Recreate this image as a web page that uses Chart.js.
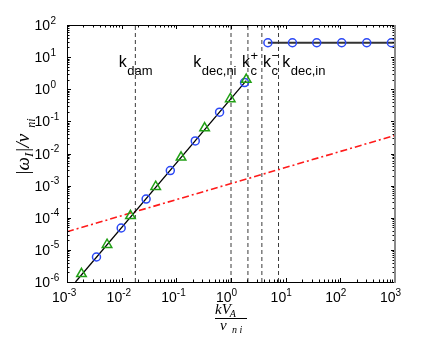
<!DOCTYPE html>
<html>
<head>
<meta charset="utf-8">
<script src="https://cdn.jsdelivr.net/npm/chart.js@4"></script>
<style>
body { margin: 0; background: #fff; }
</style>
</head>
<body>
<canvas id="growthChart" width="436" height="339"></canvas>
<script>
// markers on the k^2 branch
var triX = [0.00184, 0.0054, 0.0145, 0.0419, 0.122, 0.329, 0.97, 1.9];
var triY = [1.8e-6, 1.45e-5, 1.15e-4, 9.3e-4, 0.0076, 0.062, 0.50, 2.0];
var circX = [0.00346, 0.0098, 0.028, 0.0776, 0.222, 0.618, 1.77];
var circY = [6.0e-6, 4.8e-5, 3.8e-4, 0.00295, 0.0247, 0.193, 1.61];
// solid k^2 line
var lineX = [0.00143, 1.9];
var lineY = [1.0e-6, 1.85];
// flat branch
var flatX = [4.73, 1000];
var flatY = [28, 28];
var flatCircX = [4.73, 13.3, 37, 106, 304, 858];
var flatCircY = [28, 28, 28, 28, 28, 28];
// red dash-dot
var redX = [0.001, 1000];
var redY = [3.67e-5, 0.0367];
// vertical markers
var kLines = [0.0178, 1.0, 2.04, 3.67, 7.4];
var kLabelX = [0.00883, 0.2045, 1.585, 3.83, 8.63];
var kLabelY = 4.9;
var kSub = ["dam", "dec,ni", "c", "c", "dec,in"];
var kSup = ["", "", "+", "\u2212", ""];

var yMin = 1e-6, yMax = 1e2;
var xExp = [-3, -2, -1, 0, 1, 2, 3];
var yExp = [-6, -5, -4, -3, -2, -1, 0, 1, 2];

function pts(xs, ys) {
	return xs.map(function (x, i) { return { x: x, y: ys[i] }; });
}

var datasets = [
	{ data: pts(triX, triY), showLine: false, pointStyle: "triangle", pointRadius: 5.5,
		borderColor: "#22a016", backgroundColor: "rgba(0,0,0,0)", pointBorderWidth: 1.5 },
	{ data: pts(circX, circY), showLine: false, pointStyle: "circle", pointRadius: 4,
		borderColor: "#2b48f5", backgroundColor: "rgba(0,0,0,0)", pointBorderWidth: 1.5 },
	{ data: pts(flatCircX, flatCircY), showLine: false, pointStyle: "circle", pointRadius: 4,
		borderColor: "#2b48f5", backgroundColor: "rgba(0,0,0,0)", pointBorderWidth: 1.5 },
	{ data: pts(lineX, lineY), showLine: true, pointRadius: 0, borderColor: "#000", borderWidth: 1.3 },
	{ data: pts(flatX, flatY), showLine: true, pointRadius: 0, borderColor: "#333", borderWidth: 2 },
	{ data: pts(redX, redY), showLine: true, pointRadius: 0, borderColor: "#ff1a1a", borderWidth: 1.6,
		borderDash: [7, 3, 2, 3] }
];
kLines.forEach(function (k) {
	datasets.push({ data: pts([k, k], [yMin, yMax]), showLine: true, pointRadius: 0,
		borderColor: "#3a3a3a", borderWidth: 1, borderDash: [4, 3] });
});

var decor = {
	id: "decor",
	afterDraw: function (chart) {
		var ctx = chart.ctx, a = chart.chartArea;
		var xs = chart.scales.x, ys = chart.scales.y;
		ctx.save();

		// inward ticks on all sides
		ctx.strokeStyle = "#000";
		ctx.lineWidth = 1;
		ctx.beginPath();
		for (var e = -3; e <= 3; e++) {
			for (var m = 1; m < 10; m++) {
				if (e == 3 && m > 1) break;
				var px = Math.round(xs.getPixelForValue(m * Math.pow(10, e))) + 0.5;
				var len = m == 1 ? 4 : 2.5;
				ctx.moveTo(px, a.bottom); ctx.lineTo(px, a.bottom - len);
				ctx.moveTo(px, a.top); ctx.lineTo(px, a.top + len);
			}
		}
		for (var e = -6; e <= 2; e++) {
			for (var m = 1; m < 10; m++) {
				if (e == 2 && m > 1) break;
				var py = Math.round(ys.getPixelForValue(m * Math.pow(10, e))) + 0.5;
				var len = m == 1 ? 4 : 2.5;
				ctx.moveTo(a.left, py); ctx.lineTo(a.left + len, py);
				ctx.moveTo(a.right, py); ctx.lineTo(a.right - len, py);
			}
		}
		ctx.stroke();

		// box
		ctx.beginPath();
		ctx.moveTo(a.left + 0.5, a.top + 0.5);
		ctx.lineTo(a.left + 0.5, a.bottom + 0.5);
		ctx.lineTo(a.right, a.bottom + 0.5);
		ctx.moveTo(a.left + 0.5, a.top + 0.5);
		ctx.lineTo(a.right, a.top + 0.5);
		ctx.stroke();
		ctx.strokeStyle = "#8a8a8a";
		ctx.lineWidth = 2;
		ctx.beginPath();
		ctx.moveTo(a.right, a.top);
		ctx.lineTo(a.right, a.bottom + 1);
		ctx.stroke();

		// tick labels
		ctx.fillStyle = "#000";
		xExp.forEach(function (e) {
			var px = xs.getPixelForValue(Math.pow(10, e));
			ctx.font = "14px 'Liberation Sans', Arial, sans-serif";
			ctx.textAlign = "right";
			ctx.fillText("10", px + 0.5, 302);
			ctx.font = "10px 'Liberation Sans', Arial, sans-serif";
			ctx.textAlign = "left";
			ctx.fillText(e < 0 ? "-" + (-e) : String(e), px + 0.5, 296);
		});
		yExp.forEach(function (e) {
			var py = ys.getPixelForValue(Math.pow(10, e));
			ctx.font = "14px 'Liberation Sans', Arial, sans-serif";
			ctx.textAlign = "right";
			ctx.fillText("10", 50, py + 5);
			ctx.font = "10px 'Liberation Sans', Arial, sans-serif";
			ctx.textAlign = "left";
			ctx.fillText(e < 0 ? "-" + (-e) : String(e), 50.5, py - 1.5);
		});

		// k labels
		kLabelX.forEach(function (k, i) {
			var px = xs.getPixelForValue(k);
			var py = ys.getPixelForValue(kLabelY);
			ctx.textAlign = "left";
			ctx.font = "16px 'Liberation Sans', Arial, sans-serif";
			ctx.fillText("k", px, py);
			var w = ctx.measureText("k").width + 0.5;
			ctx.font = "13px 'Liberation Sans', Arial, sans-serif";
			ctx.fillText(kSub[i], px + w, py + 8);
			if (kSup[i]) ctx.fillText(kSup[i], px + w, py - 7);
		});

		// y axis label
		ctx.save();
		ctx.translate(29, 147);
		ctx.rotate(-Math.PI / 2);
		var parts = [["|\u03c9", 19, 0], ["I", 13, 4], ["|/\u03bd", 19, 0], ["  ni", 12, 6]];
		var total = 0;
		parts.forEach(function (p) {
			ctx.font = "italic " + p[1] + "px 'Liberation Serif', serif";
			total += ctx.measureText(p[0]).width;
		});
		var cx = -total / 2;
		ctx.textAlign = "left";
		parts.forEach(function (p) {
			ctx.font = "italic " + p[1] + "px 'Liberation Serif', serif";
			ctx.fillText(p[0], cx, p[2]);
			cx += ctx.measureText(p[0]).width;
		});
		ctx.restore();

		// x axis label (fraction)
		ctx.textAlign = "left";
		ctx.font = "italic 15px 'Liberation Serif', serif";
		ctx.fillText("kV", 215, 314);
		var wkv = ctx.measureText("kV").width;
		ctx.font = "italic 10px 'Liberation Serif', serif";
		ctx.fillText("A", 215 + wkv - 1, 317);
		ctx.fillRect(215, 318, 32, 1);
		ctx.font = "italic 15px 'Liberation Serif', serif";
		ctx.fillText("\u03bd", 220, 330);
		ctx.font = "italic 10px 'Liberation Serif', serif";
		ctx.fillText("n i", 232, 333);

		ctx.restore();
	}
};

var growthChart = new Chart(document.getElementById("growthChart"), {
	type: "scatter",
	data: { datasets: datasets },
	options: {
		responsive: false,
		animation: false,
		layout: { padding: { left: 67, top: 25, right: 41, bottom: 57 } },
		plugins: { legend: { display: false }, tooltip: { enabled: false } },
		scales: {
			x: { type: "logarithmic", display: false, min: 0.001, max: 1000 },
			y: { type: "logarithmic", display: false, min: yMin, max: yMax }
		}
	},
	plugins: [decor]
});
</script>
</body>
</html>
